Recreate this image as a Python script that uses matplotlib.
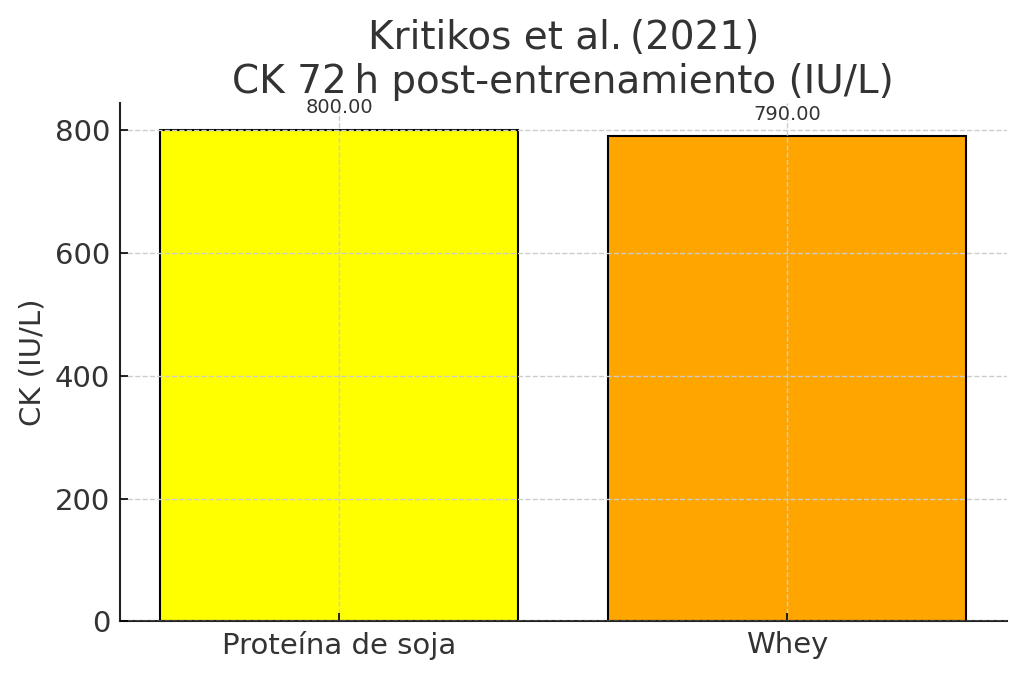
import matplotlib
matplotlib.use("Agg")
import matplotlib.pyplot as plt

categories = ["Proteína de soja", "Whey"]
values = [800.00, 790.00]
colors = ["#ffff00", "#ffa500"]

plt.rcParams['font.family'] = ['DejaVu Sans']
text_color = "#333333"

fig, ax = plt.subplots(figsize=(10.24, 6.77), dpi=100)
bars = ax.bar(categories, values, color=colors, edgecolor="black", linewidth=1.5, width=0.8, zorder=2)

for b, v in zip(bars, values):
    ax.annotate(f"{v:.2f}", xy=(b.get_x() + b.get_width() / 2, v), xytext=(0, 9),
                textcoords="offset points", ha="center", va="bottom",
                fontsize=14, color=text_color)

ax.set_title("Kritikos et al.\u2009(2021)\nCK 72\u2009h post-entrenamiento (IU/L)",
             fontsize=28, color=text_color, pad=7)
ax.set_ylabel("CK (IU/L)", fontsize=21, color=text_color, labelpad=6)
ax.set_ylim(0, 844)
ax.set_yticks([0, 200, 400, 600, 800])
ax.tick_params(axis="both", direction="in", labelsize=21, labelcolor=text_color, length=6, width=1.2, pad=7)
ax.grid(True, linestyle="--", color="#cccccc", linewidth=1, zorder=3)
ax.set_axisbelow(False)
for s in ["top", "right"]:
    ax.spines[s].set_visible(False)
for s in ["left", "bottom"]:
    ax.spines[s].set_linewidth(1.5)
    ax.spines[s].set_color("#222222")

fig.subplots_adjust(left=0.117, right=0.983, bottom=0.082, top=0.848)
fig.savefig("out.png", dpi=100)
